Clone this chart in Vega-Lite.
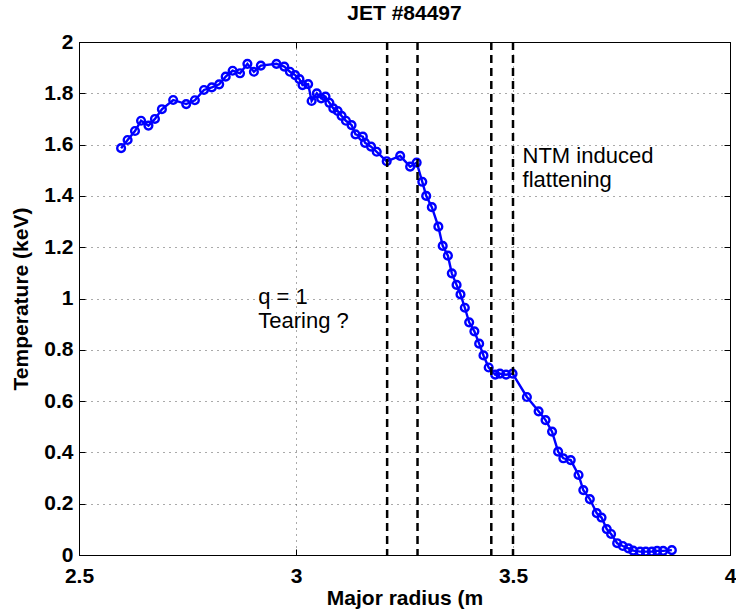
{
  "$schema": "https://vega.github.io/schema/vega-lite/v6.json",
  "width": 651,
  "height": 513,
  "autosize": "none",
  "padding": {"left": 79, "top": 42, "right": 6, "bottom": 60},
  "background": "white",
  "config": {
    "font": "Liberation Sans",
    "view": {"stroke": "black", "strokeWidth": 1},
    "axis": {"labelFont": "Liberation Sans", "titleFont": "Liberation Sans"}
  },
  "title": {"text": "JET #84497", "fontSize": 21, "fontWeight": "bold", "font": "Liberation Sans", "color": "black", "anchor": "middle", "offset": 7},
  "datasets": {
    "profile": [
      {"r": 2.597, "T": 1.586}, {"r": 2.612, "T": 1.618}, {"r": 2.629, "T": 1.653}, {"r": 2.643, "T": 1.693},
      {"r": 2.660, "T": 1.674}, {"r": 2.675, "T": 1.700}, {"r": 2.691, "T": 1.738}, {"r": 2.717, "T": 1.774},
      {"r": 2.747, "T": 1.758}, {"r": 2.767, "T": 1.773}, {"r": 2.788, "T": 1.813}, {"r": 2.806, "T": 1.823},
      {"r": 2.823, "T": 1.835}, {"r": 2.838, "T": 1.865}, {"r": 2.854, "T": 1.888}, {"r": 2.871, "T": 1.878},
      {"r": 2.888, "T": 1.915}, {"r": 2.903, "T": 1.884}, {"r": 2.919, "T": 1.908}, {"r": 2.955, "T": 1.915},
      {"r": 2.973, "T": 1.904}, {"r": 2.986, "T": 1.884}, {"r": 2.998, "T": 1.871}, {"r": 3.008, "T": 1.855},
      {"r": 3.015, "T": 1.832}, {"r": 3.028, "T": 1.836}, {"r": 3.036, "T": 1.770}, {"r": 3.048, "T": 1.800},
      {"r": 3.058, "T": 1.780}, {"r": 3.068, "T": 1.787}, {"r": 3.077, "T": 1.763}, {"r": 3.086, "T": 1.741},
      {"r": 3.096, "T": 1.731}, {"r": 3.105, "T": 1.712}, {"r": 3.115, "T": 1.693}, {"r": 3.128, "T": 1.676},
      {"r": 3.137, "T": 1.640}, {"r": 3.154, "T": 1.631}, {"r": 3.159, "T": 1.607}, {"r": 3.173, "T": 1.592},
      {"r": 3.186, "T": 1.572}, {"r": 3.209, "T": 1.535}, {"r": 3.240, "T": 1.556}, {"r": 3.263, "T": 1.514},
      {"r": 3.278, "T": 1.530}, {"r": 3.291, "T": 1.455}, {"r": 3.300, "T": 1.400}, {"r": 3.313, "T": 1.356},
      {"r": 3.328, "T": 1.280}, {"r": 3.338, "T": 1.205}, {"r": 3.350, "T": 1.167}, {"r": 3.359, "T": 1.098},
      {"r": 3.370, "T": 1.053}, {"r": 3.379, "T": 1.016}, {"r": 3.389, "T": 0.964}, {"r": 3.399, "T": 0.907},
      {"r": 3.411, "T": 0.872}, {"r": 3.422, "T": 0.824}, {"r": 3.432, "T": 0.778}, {"r": 3.444, "T": 0.731},
      {"r": 3.459, "T": 0.703}, {"r": 3.470, "T": 0.707}, {"r": 3.484, "T": 0.703}, {"r": 3.499, "T": 0.707},
      {"r": 3.532, "T": 0.616}, {"r": 3.559, "T": 0.560}, {"r": 3.575, "T": 0.526}, {"r": 3.590, "T": 0.481},
      {"r": 3.604, "T": 0.403}, {"r": 3.616, "T": 0.377}, {"r": 3.633, "T": 0.370}, {"r": 3.651, "T": 0.312},
      {"r": 3.662, "T": 0.253}, {"r": 3.677, "T": 0.218}, {"r": 3.693, "T": 0.163}, {"r": 3.704, "T": 0.146},
      {"r": 3.716, "T": 0.101}, {"r": 3.726, "T": 0.082}, {"r": 3.740, "T": 0.046}, {"r": 3.753, "T": 0.035},
      {"r": 3.766, "T": 0.026}, {"r": 3.777, "T": 0.017}, {"r": 3.793, "T": 0.013}, {"r": 3.806, "T": 0.013},
      {"r": 3.820, "T": 0.013}, {"r": 3.832, "T": 0.016}, {"r": 3.846, "T": 0.016}, {"r": 3.866, "T": 0.019}
    ],
    "vlines": [{"r": 3.21}, {"r": 3.28}, {"r": 3.45}, {"r": 3.5}],
    "notes": [
      {"r": 2.913, "T": 0.978, "label": "q = 1"},
      {"r": 2.913, "T": 0.886, "label": "Tearing ?"},
      {"r": 3.522, "T": 1.527, "label": "NTM induced"},
      {"r": 3.522, "T": 1.436, "label": "flattening"}
    ]
  },
  "resolve": {"axis": {"x": "independent", "y": "independent"}},
  "layer": [
    {
      "data": {"name": "profile"},
      "mark": {"type": "line", "color": "#0000FF", "strokeWidth": 2.4, "clip": true,
        "point": {"filled": false, "stroke": "#0000FF", "strokeWidth": 2.4, "size": 60}},
      "encoding": {
        "x": {"field": "r", "type": "quantitative",
          "scale": {"domain": [2.5, 4], "nice": false, "zero": false},
          "axis": {"title": "Major radius (m", "values": [2.5, 3, 3.5, 4], "format": "~g",
            "grid": true, "gridColor": "#555555", "gridDash": [1, 5], "gridWidth": 1,
            "domain": true, "domainColor": "black", "ticks": true, "tickColor": "black", "tickSize": -6,
            "labelPadding": 16, "labelFontSize": 21, "labelFontWeight": "bold", "labelColor": "black",
            "labelFlush": false, "labelBaseline": "top",
            "titleFontSize": 21, "titleFontWeight": "bold", "titleColor": "black",
            "titleX": 325.5, "titleY": 43, "titleBaseline": "middle", "titleAnchor": "middle"}},
        "y": {"field": "T", "type": "quantitative",
          "scale": {"domain": [0, 2], "nice": false},
          "axis": {"title": "Temperature (keV)", "values": [0, 0.2, 0.4, 0.6, 0.8, 1, 1.2, 1.4, 1.6, 1.8, 2], "format": "~g",
            "grid": true, "gridColor": "#555555", "gridDash": [1, 5], "gridWidth": 1,
            "domain": true, "domainColor": "black", "ticks": true, "tickColor": "black", "tickSize": -6,
            "labelPadding": 12, "labelFontSize": 21, "labelFontWeight": "bold", "labelColor": "black",
            "labelFlush": false, "labelBaseline": "middle",
            "titleFontSize": 21, "titleFontWeight": "bold", "titleColor": "black",
            "titleAngle": -90, "titleX": -58, "titleY": 256.5, "titleBaseline": "middle", "titleAnchor": "middle"}}
      }
    },
    {
      "data": {"name": "vlines"},
      "mark": {"type": "rule", "color": "black", "strokeWidth": 2.5, "strokeDash": [8, 5]},
      "encoding": {
        "x": {"field": "r", "type": "quantitative", "axis": null}
      }
    },
    {
      "data": {"name": "notes"},
      "mark": {"type": "text", "align": "left", "baseline": "alphabetic", "fontSize": 22, "font": "Liberation Sans", "color": "black"},
      "encoding": {
        "x": {"field": "r", "type": "quantitative",
          "axis": {"orient": "top", "values": [2.5, 3, 3.5, 4], "labels": false, "title": null, "grid": false,
            "domain": true, "domainColor": "black", "ticks": true, "tickColor": "black", "tickSize": -6}},
        "y": {"field": "T", "type": "quantitative",
          "axis": {"orient": "right", "values": [0, 0.2, 0.4, 0.6, 0.8, 1, 1.2, 1.4, 1.6, 1.8, 2], "labels": false, "title": null, "grid": false,
            "domain": true, "domainColor": "black", "ticks": true, "tickColor": "black", "tickSize": -6}},
        "text": {"field": "label"}
      }
    }
  ]
}
